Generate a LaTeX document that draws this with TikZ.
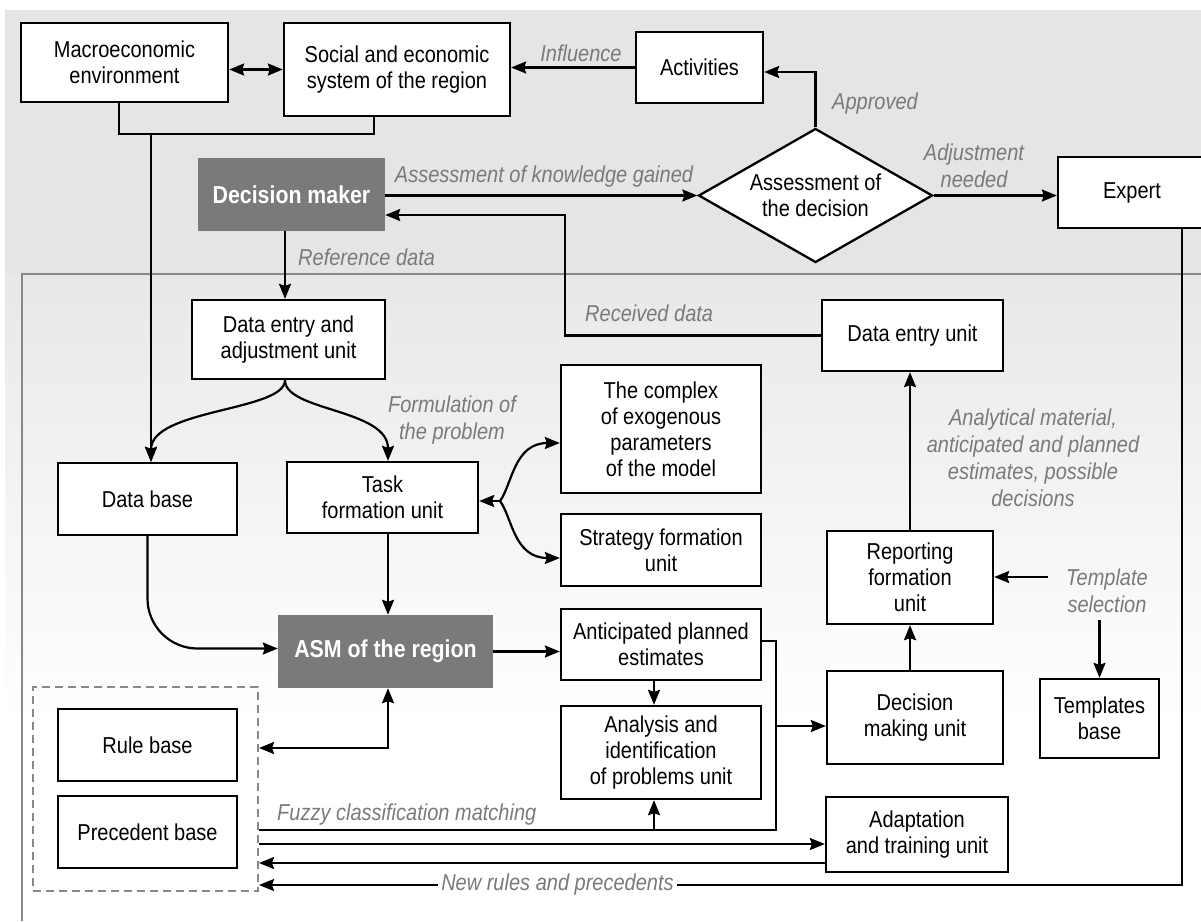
\documentclass[tikz,border=0pt]{standalone}
\usepackage{fontspec}
\setmainfont{Liberation Sans}[FakeStretch=0.87]
\usetikzlibrary{arrows.meta,shapes.geometric,calc}
\definecolor{bgtop}{RGB}{229,229,229}
\definecolor{bgmid}{RGB}{232,232,232}
\definecolor{lblgray}{RGB}{122,122,122}
\definecolor{darkfill}{RGB}{122,122,124}
\definecolor{framegray}{RGB}{136,136,136}

\begin{document}
\begin{tikzpicture}[x=1pt,y=-1pt,
  every node/.style={font=\fontsize{23}{26}\selectfont},
  box/.style={draw=black, fill=white, line width=2.3pt, align=center, inner sep=2pt},
  darkbox/.style={fill=darkfill, text=white, align=center, inner sep=2pt,
                  font=\fontsize{24.5}{28}\selectfont\bfseries},
  lbl/.style={text=lblgray, align=center, inner sep=1pt,
              font=\fontsize{23}{27}\selectfont\itshape},
  conn/.style={line width=2.2pt, draw=black},
  tip/.tip={Stealth[length=15pt,width=12pt,inset=2pt]},
  arr/.style={conn, -tip},
  dbl/.style={conn, tip-tip},
]
\useasboundingbox (0,0) rectangle (1201,921);

% background and outer frame of the system
\fill[bgtop] (5,10) rectangle (1201,274);
\shade[top color=bgmid, bottom color=white] (5,274) rectangle (1201,720);
\draw[framegray, line width=1.8pt] (22,921) -- (22,274) -- (1201,274);

% environment
\node[box, minimum width=207pt, minimum height=79pt] (macro) at (124.5,62.5) {Macroeconomic\\environment};
\node[box, minimum width=226pt, minimum height=93pt] (social) at (397,69.5) {Social and economic\\system of the region};
\node[box, minimum width=127pt, minimum height=71pt] (activities) at (699.5,67.5) {Activities};
\node[box, diamond, aspect=1.746, minimum width=234pt, minimum height=134pt, inner sep=0pt] (assess) at (815.5,195.5) {Assessment of\\the decision};
\node[box, minimum width=148pt, minimum height=71pt] (expert) at (1132,192.5) {Expert};
\node[darkbox, minimum width=187pt, minimum height=73pt] (dm) at (291.5,194.5) {Decision maker};

% system units
\node[box, minimum width=193pt, minimum height=79pt] (deau) at (288.5,339.5) {Data entry and\\adjustment unit};
\node[box, minimum width=181pt, minimum height=71pt] (deu) at (912.5,335.5) {Data entry unit};
\node[box, minimum width=179pt, minimum height=72pt] (database) at (147.5,499) {Data base};
\node[box, minimum width=191pt, minimum height=71pt] (task) at (382.5,497.5) {Task\\formation unit};
\node[box, minimum width=200pt, minimum height=128pt] (complex) at (661,429) {The complex\\of exogenous\\parameters\\of the model};
\node[box, minimum width=200pt, minimum height=72pt] (strategy) at (661,550) {Strategy formation\\unit};
\node[box, minimum width=166pt, minimum height=93pt] (reporting) at (910,577.5) {Reporting\\formation\\unit};
\node[box, minimum width=119pt, minimum height=79pt] (templates) at (1099.5,718.5) {Templates\\base};
\node[darkbox, minimum width=215pt, minimum height=73pt] (asm) at (385.5,651.5) {ASM of the region};
\node[box, minimum width=200pt, minimum height=71pt] (anticipated) at (661,644.5) {Anticipated planned\\estimates};
\node[box, minimum width=200pt, minimum height=93pt] (analysis) at (661,752.5) {Analysis and\\identification\\of problems unit};
\node[box, minimum width=176pt, minimum height=93pt] (decmaking) at (915,717.5) {Decision\\making unit};
\node[box, minimum width=182pt, minimum height=75pt] (adaptation) at (917,834.5) {Adaptation\\and training unit};

% knowledge bases
\node[draw=framegray, line width=2pt, dash pattern=on 8pt off 5pt, minimum width=225pt, minimum height=204pt] (grp) at (145.5,789) {};
\node[box, minimum width=179pt, minimum height=72pt] (rulebase) at (147.5,745) {Rule base};
\node[box, minimum width=179pt, minimum height=72pt] (precedent) at (147.5,832) {Precedent base};

% helper coordinates
\coordinate (j1) at (151,134);
\coordinate (refx) at (285,0);
\coordinate (tx) at (388,0);
\coordinate (ax) at (654,0);
\coordinate (br) at (500,501);
\coordinate (rd) at (565,215);
\coordinate (fz) at (776,830);
\coordinate (dmy) at (0,726);
\coordinate (y748) at (0,748);
\coordinate (y844) at (0,844);
\coordinate (y863) at (0,863);
\coordinate (y885) at (0,885);
\coordinate (exline) at (1182,0);
\coordinate (tsin) at (1048,577);

% top connectors
\draw[dbl] (macro.east |- social.west) -- (social.west);
\draw[conn] ([xshift=-5.5pt]macro.south) |- (j1) -| ([xshift=-23pt]social.south);
\draw[arr] (j1) -- (j1 |- database.north);
\draw[arr] (activities.west) -- (activities.west -| social.east);
\node[lbl] at (581,53) {Influence};
\draw[arr] (assess.north) |- ([yshift=-4.5pt]activities.east);
\node[lbl, anchor=west] at (831,104) {Approved};
\draw[arr] (dm.east |- assess.west) -- (assess.west);
\node[lbl] at (544,177) {Assessment of knowledge gained};
\draw[arr] (assess.east) -- (assess.east -| expert.west);
\node[lbl] at (974,166) {Adjustment\\needed};
\draw[arr] (deu.west) -| (rd) -- (rd -| dm.east);
\node[lbl, anchor=west] at (584,313) {Received data};
\draw[arr] (dm.south -| refx) -- (deau.north -| refx);
\node[lbl, anchor=west] at (297,257) {Reference data};

% data entry branches
\draw[arr] (deau.south -| refx) .. controls +(0,31) and +(0,-53) .. (j1 |- database.north);
\draw[arr] (deau.south -| refx) .. controls +(0,31) and +(0,-52) .. (tx |- task.north);
\node[lbl] at (452,420) {Formulation of\\the problem};

% task formation links
\draw[arr] (br) -- (task.east |- br);
\draw[arr] (br) .. controls +(12,-16) and +(-46,0) .. ([yshift=-14pt]complex.west);
\draw[arr] (br) .. controls +(12,16) and +(-46,0) .. ([yshift=-8pt]strategy.west);
\draw[arr] (task.south -| tx) -- (asm.north -| tx);

% ASM and analysis
\draw[arr, rounded corners=50pt] (database.south) |- ([yshift=3pt]asm.west);
\draw[arr] (asm.east) -- (asm.east -| anticipated.west);
\draw[arr] (anticipated.south -| ax) -- (analysis.north -| ax);
\draw[conn] ([yshift=3.5pt]anticipated.east) -| (fz) -- (fz -| grp.east);
\draw[arr] (fz -| ax) -- (analysis.south -| ax);
\node[lbl, anchor=west] at (276,815) {Fuzzy classification matching};
\draw[arr] (fz |- dmy) -- (decmaking.west |- dmy);
\draw[dbl] (grp.east |- y748) -| (asm.south -| tx);

% adaptation and learning
\draw[arr] (grp.east |- y844) -- (adaptation.west |- y844);
\draw[arr] (adaptation.west |- y863) -- (grp.east |- y863);
\draw[arr] (expert.south -| exline) |- (grp.east |- y885);
\node[lbl, fill=white, inner sep=3pt] at (557.5,885) {New rules and precedents};

% reporting chain
\draw[arr] (reporting.north) -- (reporting.north |- deu.south);
\node[lbl] at (1033,458) {Analytical material,\\anticipated and planned\\estimates, possible\\decisions};
\draw[arr] (decmaking.north -| reporting.north) -- (reporting.south);
\node[lbl] (tsel) at (1107,591) {Template\\selection};
\draw[arr] (tsin) -- (reporting.east |- tsin);
\draw[arr, shorten <=6pt] (tsel.south -| templates.north) -- (templates.north);
\end{tikzpicture}
\end{document}
